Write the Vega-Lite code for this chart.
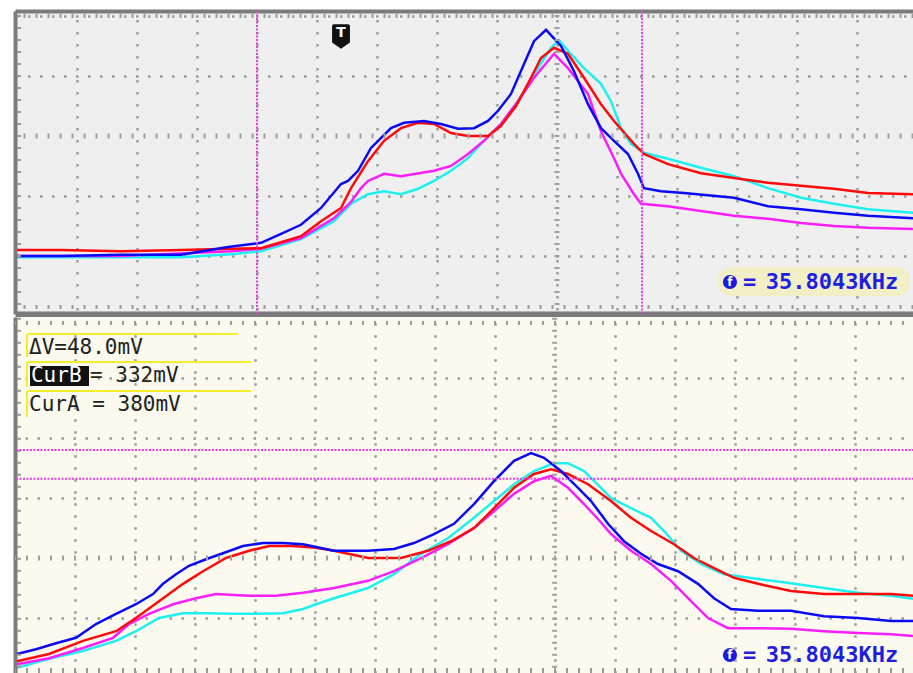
{
  "$schema": "https://vega.github.io/schema/vega-lite/v6.json",
  "background": "white",
  "padding": {"left": 12, "top": 8, "right": 0, "bottom": 0},
  "bounds": "flush",
  "spacing": 3,
  "config": {
    "view": {"stroke": null},
    "axis": {"labels": false, "ticks": false, "domain": false, "grid": false}
  },
  "datasets": {
    "one": [{}],
    "top": [
      {"ch":"cyan","t":0,"v":-2},{"ch":"cyan","t":0.733,"v":-2},{"ch":"cyan","t":1.733,"v":-2},{"ch":"cyan","t":2.733,"v":-2},{"ch":"cyan","t":3.567,"v":3},{"ch":"cyan","t":4.067,"v":8},{"ch":"cyan","t":4.733,"v":28},{"ch":"cyan","t":5.283,"v":58},{"ch":"cyan","t":5.567,"v":87},{"ch":"cyan","t":5.85,"v":103},{"ch":"cyan","t":6.117,"v":108},{"ch":"cyan","t":6.4,"v":103},{"ch":"cyan","t":6.683,"v":112},{"ch":"cyan","t":6.95,"v":125},{"ch":"cyan","t":7.233,"v":142},{"ch":"cyan","t":7.517,"v":163},{"ch":"cyan","t":7.783,"v":192},{"ch":"cyan","t":8.067,"v":220},{"ch":"cyan","t":8.35,"v":258},{"ch":"cyan","t":8.617,"v":303},{"ch":"cyan","t":8.9,"v":347},{"ch":"cyan","t":9.033,"v":360},{"ch":"cyan","t":9.183,"v":342},{"ch":"cyan","t":9.45,"v":313},{"ch":"cyan","t":9.733,"v":287},{"ch":"cyan","t":9.9,"v":258},{"ch":"cyan","t":10.067,"v":213},{"ch":"cyan","t":10.233,"v":187},{"ch":"cyan","t":10.45,"v":172},{"ch":"cyan","t":10.85,"v":162},{"ch":"cyan","t":11.4,"v":147},{"ch":"cyan","t":11.95,"v":133},{"ch":"cyan","t":12.517,"v":113},{"ch":"cyan","t":13.067,"v":97},{"ch":"cyan","t":13.617,"v":87},{"ch":"cyan","t":14.183,"v":78},{"ch":"cyan","t":14.95,"v":72},
      {"ch":"magenta","t":0,"v":0},{"ch":"magenta","t":1.733,"v":0},{"ch":"magenta","t":3.567,"v":8},{"ch":"magenta","t":4.067,"v":12},{"ch":"magenta","t":4.733,"v":30},{"ch":"magenta","t":5.283,"v":63},{"ch":"magenta","t":5.567,"v":90},{"ch":"magenta","t":5.733,"v":113},{"ch":"magenta","t":5.85,"v":125},{"ch":"magenta","t":6.117,"v":137},{"ch":"magenta","t":6.4,"v":133},{"ch":"magenta","t":6.95,"v":142},{"ch":"magenta","t":7.233,"v":150},{"ch":"magenta","t":7.517,"v":170},{"ch":"magenta","t":7.783,"v":192},{"ch":"magenta","t":8.067,"v":220},{"ch":"magenta","t":8.35,"v":258},{"ch":"magenta","t":8.617,"v":297},{"ch":"magenta","t":8.95,"v":337},{"ch":"magenta","t":9.183,"v":313},{"ch":"magenta","t":9.517,"v":270},{"ch":"magenta","t":9.733,"v":208},{"ch":"magenta","t":9.95,"v":163},{"ch":"magenta","t":10.067,"v":137},{"ch":"magenta","t":10.283,"v":103},{"ch":"magenta","t":10.4,"v":87},{"ch":"magenta","t":10.85,"v":83},{"ch":"magenta","t":11.4,"v":75},{"ch":"magenta","t":11.95,"v":67},{"ch":"magenta","t":12.517,"v":62},{"ch":"magenta","t":13.067,"v":55},{"ch":"magenta","t":13.617,"v":50},{"ch":"magenta","t":14.183,"v":47},{"ch":"magenta","t":14.95,"v":45},
      {"ch":"red","t":0,"v":10},{"ch":"red","t":0.733,"v":10},{"ch":"red","t":1.733,"v":8},{"ch":"red","t":2.733,"v":10},{"ch":"red","t":3.567,"v":12},{"ch":"red","t":4.067,"v":13},{"ch":"red","t":4.733,"v":33},{"ch":"red","t":5.067,"v":58},{"ch":"red","t":5.4,"v":80},{"ch":"red","t":5.567,"v":113},{"ch":"red","t":5.85,"v":158},{"ch":"red","t":6.117,"v":192},{"ch":"red","t":6.4,"v":213},{"ch":"red","t":6.683,"v":222},{"ch":"red","t":6.95,"v":220},{"ch":"red","t":7.233,"v":205},{"ch":"red","t":7.517,"v":200},{"ch":"red","t":7.85,"v":200},{"ch":"red","t":8.067,"v":217},{"ch":"red","t":8.317,"v":250},{"ch":"red","t":8.567,"v":297},{"ch":"red","t":8.733,"v":330},{"ch":"red","t":8.95,"v":347},{"ch":"red","t":9.183,"v":337},{"ch":"red","t":9.45,"v":297},{"ch":"red","t":9.733,"v":253},{"ch":"red","t":9.95,"v":225},{"ch":"red","t":10.283,"v":187},{"ch":"red","t":10.45,"v":170},{"ch":"red","t":10.85,"v":153},{"ch":"red","t":11.4,"v":138},{"ch":"red","t":11.95,"v":130},{"ch":"red","t":12.517,"v":122},{"ch":"red","t":13.067,"v":117},{"ch":"red","t":13.617,"v":112},{"ch":"red","t":14.183,"v":105},{"ch":"red","t":14.95,"v":103},
      {"ch":"blue","t":0,"v":0},{"ch":"blue","t":0.733,"v":0},{"ch":"blue","t":1.733,"v":2},{"ch":"blue","t":2.733,"v":2},{"ch":"blue","t":3.517,"v":15},{"ch":"blue","t":4.067,"v":22},{"ch":"blue","t":4.4,"v":37},{"ch":"blue","t":4.733,"v":52},{"ch":"blue","t":5.067,"v":80},{"ch":"blue","t":5.4,"v":120},{"ch":"blue","t":5.517,"v":125},{"ch":"blue","t":5.683,"v":142},{"ch":"blue","t":5.9,"v":180},{"ch":"blue","t":6.233,"v":213},{"ch":"blue","t":6.45,"v":222},{"ch":"blue","t":6.783,"v":225},{"ch":"blue","t":7.067,"v":220},{"ch":"blue","t":7.35,"v":212},{"ch":"blue","t":7.617,"v":213},{"ch":"blue","t":7.85,"v":225},{"ch":"blue","t":8.017,"v":242},{"ch":"blue","t":8.233,"v":270},{"ch":"blue","t":8.45,"v":320},{"ch":"blue","t":8.617,"v":358},{"ch":"blue","t":8.817,"v":377},{"ch":"blue","t":9.067,"v":350},{"ch":"blue","t":9.283,"v":308},{"ch":"blue","t":9.517,"v":253},{"ch":"blue","t":9.733,"v":213},{"ch":"blue","t":9.95,"v":192},{"ch":"blue","t":10.183,"v":170},{"ch":"blue","t":10.35,"v":137},{"ch":"blue","t":10.45,"v":113},{"ch":"blue","t":10.733,"v":108},{"ch":"blue","t":11.117,"v":105},{"ch":"blue","t":11.95,"v":97},{"ch":"blue","t":12.517,"v":83},{"ch":"blue","t":13.067,"v":78},{"ch":"blue","t":13.617,"v":72},{"ch":"blue","t":14.183,"v":67},{"ch":"blue","t":14.95,"v":63}
    ],
    "bot": [
      {"ch":"cyan","t":0,"v":17},{"ch":"cyan","t":0.533,"v":32},{"ch":"cyan","t":1.1,"v":45},{"ch":"cyan","t":1.65,"v":62},{"ch":"cyan","t":1.983,"v":78},{"ch":"cyan","t":2.367,"v":100},{"ch":"cyan","t":2.767,"v":108},{"ch":"cyan","t":3.15,"v":108},{"ch":"cyan","t":3.6,"v":107},{"ch":"cyan","t":3.983,"v":107},{"ch":"cyan","t":4.433,"v":108},{"ch":"cyan","t":4.767,"v":115},{"ch":"cyan","t":4.983,"v":123},{"ch":"cyan","t":5.283,"v":133},{"ch":"cyan","t":5.85,"v":150},{"ch":"cyan","t":6.283,"v":173},{"ch":"cyan","t":6.733,"v":207},{"ch":"cyan","t":7.183,"v":233},{"ch":"cyan","t":7.617,"v":267},{"ch":"cyan","t":7.95,"v":295},{"ch":"cyan","t":8.283,"v":323},{"ch":"cyan","t":8.617,"v":345},{"ch":"cyan","t":8.95,"v":358},{"ch":"cyan","t":9.183,"v":358},{"ch":"cyan","t":9.45,"v":345},{"ch":"cyan","t":9.733,"v":317},{"ch":"cyan","t":9.9,"v":300},{"ch":"cyan","t":10.233,"v":283},{"ch":"cyan","t":10.567,"v":267},{"ch":"cyan","t":10.783,"v":245},{"ch":"cyan","t":11.067,"v":212},{"ch":"cyan","t":11.4,"v":190},{"ch":"cyan","t":11.783,"v":173},{"ch":"cyan","t":12.35,"v":165},{"ch":"cyan","t":12.9,"v":158},{"ch":"cyan","t":13.45,"v":150},{"ch":"cyan","t":14.017,"v":142},{"ch":"cyan","t":14.567,"v":137},{"ch":"cyan","t":14.95,"v":132},
      {"ch":"magenta","t":0,"v":23},{"ch":"magenta","t":0.533,"v":33},{"ch":"magenta","t":1.1,"v":50},{"ch":"magenta","t":1.6,"v":67},{"ch":"magenta","t":1.867,"v":90},{"ch":"magenta","t":2.2,"v":107},{"ch":"magenta","t":2.6,"v":123},{"ch":"magenta","t":2.983,"v":133},{"ch":"magenta","t":3.317,"v":140},{"ch":"magenta","t":3.867,"v":137},{"ch":"magenta","t":4.317,"v":137},{"ch":"magenta","t":4.767,"v":142},{"ch":"magenta","t":5.283,"v":150},{"ch":"magenta","t":5.85,"v":162},{"ch":"magenta","t":6.283,"v":178},{"ch":"magenta","t":6.733,"v":200},{"ch":"magenta","t":7.183,"v":223},{"ch":"magenta","t":7.617,"v":250},{"ch":"magenta","t":7.95,"v":278},{"ch":"magenta","t":8.283,"v":307},{"ch":"magenta","t":8.617,"v":328},{"ch":"magenta","t":8.9,"v":337},{"ch":"magenta","t":9.183,"v":317},{"ch":"magenta","t":9.45,"v":290},{"ch":"magenta","t":9.683,"v":265},{"ch":"magenta","t":9.9,"v":240},{"ch":"magenta","t":10.233,"v":212},{"ch":"magenta","t":10.567,"v":190},{"ch":"magenta","t":10.9,"v":162},{"ch":"magenta","t":11.233,"v":128},{"ch":"magenta","t":11.517,"v":100},{"ch":"magenta","t":11.85,"v":83},{"ch":"magenta","t":12.35,"v":83},{"ch":"magenta","t":12.9,"v":82},{"ch":"magenta","t":13.45,"v":78},{"ch":"magenta","t":14.017,"v":75},{"ch":"magenta","t":14.567,"v":73},{"ch":"magenta","t":14.95,"v":70},
      {"ch":"red","t":0,"v":28},{"ch":"red","t":0.533,"v":40},{"ch":"red","t":1.1,"v":62},{"ch":"red","t":1.65,"v":78},{"ch":"red","t":1.983,"v":100},{"ch":"red","t":2.367,"v":128},{"ch":"red","t":2.767,"v":157},{"ch":"red","t":3.1,"v":178},{"ch":"red","t":3.483,"v":200},{"ch":"red","t":3.867,"v":212},{"ch":"red","t":4.2,"v":220},{"ch":"red","t":4.6,"v":220},{"ch":"red","t":4.983,"v":217},{"ch":"red","t":5.283,"v":212},{"ch":"red","t":5.85,"v":200},{"ch":"red","t":6.4,"v":200},{"ch":"red","t":6.85,"v":212},{"ch":"red","t":7.233,"v":228},{"ch":"red","t":7.617,"v":250},{"ch":"red","t":7.95,"v":283},{"ch":"red","t":8.283,"v":317},{"ch":"red","t":8.617,"v":340},{"ch":"red","t":8.9,"v":348},{"ch":"red","t":9.183,"v":340},{"ch":"red","t":9.517,"v":323},{"ch":"red","t":9.733,"v":307},{"ch":"red","t":9.9,"v":295},{"ch":"red","t":10.233,"v":267},{"ch":"red","t":10.567,"v":245},{"ch":"red","t":10.95,"v":223},{"ch":"red","t":11.283,"v":200},{"ch":"red","t":11.617,"v":183},{"ch":"red","t":11.95,"v":167},{"ch":"red","t":12.35,"v":157},{"ch":"red","t":12.9,"v":145},{"ch":"red","t":13.45,"v":140},{"ch":"red","t":14.017,"v":140},{"ch":"red","t":14.567,"v":140},{"ch":"red","t":14.95,"v":137},
      {"ch":"blue","t":0,"v":40},{"ch":"blue","t":0.317,"v":48},{"ch":"blue","t":0.65,"v":58},{"ch":"blue","t":0.983,"v":67},{"ch":"blue","t":1.317,"v":90},{"ch":"blue","t":1.65,"v":107},{"ch":"blue","t":1.983,"v":123},{"ch":"blue","t":2.267,"v":140},{"ch":"blue","t":2.433,"v":157},{"ch":"blue","t":2.65,"v":173},{"ch":"blue","t":2.867,"v":187},{"ch":"blue","t":3.15,"v":198},{"ch":"blue","t":3.433,"v":208},{"ch":"blue","t":3.767,"v":220},{"ch":"blue","t":4.1,"v":225},{"ch":"blue","t":4.433,"v":225},{"ch":"blue","t":4.767,"v":223},{"ch":"blue","t":5.283,"v":212},{"ch":"blue","t":5.85,"v":212},{"ch":"blue","t":6.283,"v":215},{"ch":"blue","t":6.617,"v":225},{"ch":"blue","t":6.95,"v":240},{"ch":"blue","t":7.283,"v":257},{"ch":"blue","t":7.617,"v":290},{"ch":"blue","t":7.95,"v":328},{"ch":"blue","t":8.283,"v":362},{"ch":"blue","t":8.567,"v":375},{"ch":"blue","t":8.783,"v":367},{"ch":"blue","t":9.067,"v":345},{"ch":"blue","t":9.35,"v":317},{"ch":"blue","t":9.567,"v":295},{"ch":"blue","t":9.85,"v":257},{"ch":"blue","t":10.117,"v":228},{"ch":"blue","t":10.4,"v":207},{"ch":"blue","t":10.683,"v":190},{"ch":"blue","t":11.017,"v":178},{"ch":"blue","t":11.35,"v":157},{"ch":"blue","t":11.617,"v":133},{"ch":"blue","t":11.9,"v":115},{"ch":"blue","t":12.35,"v":112},{"ch":"blue","t":12.9,"v":112},{"ch":"blue","t":13.45,"v":103},{"ch":"blue","t":14.017,"v":100},{"ch":"blue","t":14.567,"v":95},{"ch":"blue","t":14.95,"v":95}
    ]
  },
  "vconcat": [
    {
      "width": 899,
      "height": 303,
      "view": {"fill": "#efefef", "stroke": null},
      "resolve": {"axis": {"x": "independent", "y": "independent"}},
      "layer": [
        {
          "data": {"name": "top"},
          "mark": {"type": "line", "clip": true, "strokeJoin": "miter"},
          "encoding": {
            "x": {"field": "t", "type": "quantitative", "scale": {"domain": [-0.0333, 14.95], "nice": false, "zero": false},
              "axis": {"orient": "top", "title": null, "domain": true, "domainColor": "#7b7b7b", "domainWidth": 4, "grid": true, "values": [1,2,3,4,5,6,7,8,9,10,11,12,13,14], "gridColor": "#9c9c9c", "gridWidth": 2.5, "gridDash": [2.5, 9.5], "gridDashOffset": 8, "gridOpacity": 1}},
            "y": {"field": "v", "type": "quantitative", "scale": {"domain": [-96.7, 408.3], "nice": false, "zero": false},
              "axis": {"orient": "left", "title": null, "domain": true, "domainColor": "#7b7b7b", "domainWidth": 4, "grid": true, "values": [0, 100, 300, 400], "gridColor": "#9c9c9c", "gridWidth": 2.5, "gridDash": [2.5, 9.5], "gridDashOffset": 11.5, "gridOpacity": 1}},
            "color": {"field": "ch", "type": "nominal", "scale": {"domain": ["cyan", "magenta", "red", "blue"], "range": ["#1ef0f0", "#fa1efa", "#ff0a0a", "#0a0af5"]}, "legend": null},
            "strokeWidth": {"field": "ch", "type": "nominal", "scale": {"domain": ["cyan", "magenta", "red", "blue"], "range": [2.5, 2.5, 3.5, 4]}, "legend": null}
          }
        },
        {
          "data": {"name": "one"},
          "mark": {"type": "rule", "color": "#a0a0a0", "strokeWidth": 5, "strokeDash": [2, 10], "strokeDashOffset": 8},
          "encoding": {"x": {"datum": 9, "type": "quantitative",
            "axis": {"orient": "bottom", "title": null, "domain": true, "domainColor": "#7b7b7b", "domainWidth": 6, "grid": false, "labels": false, "ticks": false}}}
        },
        {
          "data": {"name": "one"},
          "mark": {"type": "rule", "color": "#a0a0a0", "strokeWidth": 5, "strokeDash": [2, 10], "strokeDashOffset": 11.5},
          "encoding": {"y": {"datum": 200, "type": "quantitative", "axis": null}}
        },
        {
          "data": {"name": "one"},
          "mark": {"type": "rule", "color": "#9a9a9a", "strokeWidth": 4, "strokeDash": [2, 10], "strokeDashOffset": 11.5, "yOffset": 5},
          "encoding": {"y": {"datum": 408.3, "type": "quantitative", "axis": null}}
        },
        {
          "data": {"name": "one"},
          "mark": {"type": "rule", "color": "#9a9a9a", "strokeWidth": 4, "strokeDash": [2, 10], "strokeDashOffset": 11.5, "yOffset": -7},
          "encoding": {"y": {"datum": -96.7, "type": "quantitative", "axis": null}}
        },
        {
          "data": {"name": "one"},
          "mark": {"type": "rule", "color": "#9a9a9a", "strokeWidth": 4, "strokeDash": [2, 10], "strokeDashOffset": 8, "xOffset": 4},
          "encoding": {"x": {"datum": -0.0333, "type": "quantitative", "axis": null}}
        },
        {
          "data": {"name": "one"},
          "mark": {"type": "rule", "color": "#e83ee8", "strokeWidth": 2, "strokeDash": [2, 1.5]},
          "encoding": {"x": {"datum": 4.0, "type": "quantitative", "axis": null}}
        },
        {
          "data": {"name": "one"},
          "mark": {"type": "rule", "color": "#e83ee8", "strokeWidth": 2, "strokeDash": [2, 1.5]},
          "encoding": {"x": {"datum": 10.417, "type": "quantitative", "axis": null}}
        },
        {
          "data": {"name": "one"},
          "mark": {"type": "point", "filled": true, "color": "#111111", "opacity": 1, "size": 320,
            "shape": "M-0.8,-1.3 L0.8,-1.3 Q1,-1.3 1,-1.1 L1,0.75 L0,1.45 L-1,0.75 L-1,-1.1 Q-1,-1.3 -0.8,-1.3 Z"},
          "encoding": {"x": {"datum": 5.4, "type": "quantitative", "axis": null}, "y": {"datum": 367, "type": "quantitative", "axis": null}}
        },
        {
          "data": {"name": "one"},
          "mark": {"type": "text", "text": "T", "color": "white", "font": "DejaVu Sans", "fontWeight": "bold", "fontSize": 14, "align": "center", "baseline": "middle"},
          "encoding": {"x": {"datum": 5.4, "type": "quantitative", "axis": null}, "y": {"datum": 372, "type": "quantitative", "axis": null}}
        },
        {
          "data": {"name": "one"},
          "mark": {"type": "rect", "color": "#f2eec5", "cornerRadius": 13},
          "encoding": {"x": {"datum": 11.683, "type": "quantitative", "axis": null}, "x2": {"datum": 14.883},
                       "y": {"datum": -18.3, "type": "quantitative", "axis": null}, "y2": {"datum": -66.7}}
        },
        {
          "data": {"name": "one"},
          "mark": {"type": "point", "filled": true, "shape": "circle", "color": "#1a1ae6", "opacity": 1, "size": 200},
          "encoding": {"x": {"datum": 11.883, "type": "quantitative", "axis": null}, "y": {"datum": -43.3, "type": "quantitative", "axis": null}}
        },
        {
          "data": {"name": "one"},
          "mark": {"type": "text", "text": "f", "color": "white", "font": "DejaVu Sans", "fontWeight": "bold", "fontSize": 12, "align": "center", "baseline": "middle"},
          "encoding": {"x": {"datum": 11.883, "type": "quantitative", "axis": null}, "y": {"datum": -43.3, "type": "quantitative", "axis": null}}
        },
        {
          "data": {"name": "one"},
          "mark": {"type": "text", "text": "=", "color": "#1f1fe0", "font": "DejaVu Sans Mono", "fontWeight": "bold", "fontSize": 22, "align": "left", "baseline": "middle"},
          "encoding": {"x": {"datum": 12.1, "type": "quantitative", "axis": null}, "y": {"datum": -43.3, "type": "quantitative", "axis": null}}
        },
        {
          "data": {"name": "one"},
          "mark": {"type": "text", "text": "35.8043KHz", "color": "#1f1fe0", "font": "DejaVu Sans Mono", "fontWeight": "bold", "fontSize": 22, "align": "left", "baseline": "middle"},
          "encoding": {"x": {"datum": 12.48, "type": "quantitative", "axis": null}, "y": {"datum": -43.3, "type": "quantitative", "axis": null}}
        }
      ]
    },
    {
      "width": 899,
      "height": 357,
      "view": {"fill": "#fcf9ee", "stroke": null},
      "resolve": {"axis": {"x": "independent", "y": "independent"}},
      "layer": [
        {
          "data": {"name": "bot"},
          "mark": {"type": "line", "clip": true, "strokeJoin": "miter"},
          "encoding": {
            "x": {"field": "t", "type": "quantitative", "scale": {"domain": [-0.0333, 14.95], "nice": false, "zero": false},
              "axis": {"orient": "top", "title": null, "domain": false, "grid": true, "values": [0.96,1.96,2.96,3.96,4.96,5.96,6.96,7.96,8.96,9.96,10.96,11.96,12.96,13.96], "gridColor": "#9c9c9c", "gridWidth": 2.5, "gridDash": [2.5, 9.5], "gridDashOffset": 11.3, "gridOpacity": 1}},
            "y": {"field": "v", "type": "quantitative", "scale": {"domain": [6.7, 601.7], "nice": false, "zero": false},
              "axis": {"orient": "left", "title": null, "domain": true, "domainColor": "#7b7b7b", "domainWidth": 4, "grid": true, "values": [100, 300, 400, 500], "gridColor": "#9c9c9c", "gridWidth": 2.5, "gridDash": [2.5, 9.5], "gridDashOffset": 2, "gridOpacity": 1}},
            "color": {"field": "ch", "type": "nominal", "scale": {"domain": ["cyan", "magenta", "red", "blue"], "range": ["#1ef0f0", "#fa1efa", "#ff0a0a", "#0a0af5"]}, "legend": null},
            "strokeWidth": {"field": "ch", "type": "nominal", "scale": {"domain": ["cyan", "magenta", "red", "blue"], "range": [2.5, 2.5, 3.5, 4]}, "legend": null}
          }
        },
        {
          "data": {"name": "one"},
          "mark": {"type": "rule", "color": "#a0a0a0", "strokeWidth": 5, "strokeDash": [2, 10], "strokeDashOffset": 11.3},
          "encoding": {"x": {"datum": 8.96, "type": "quantitative", "axis": null}}
        },
        {
          "data": {"name": "one"},
          "mark": {"type": "rule", "color": "#a0a0a0", "strokeWidth": 5, "strokeDash": [2, 10], "strokeDashOffset": 2},
          "encoding": {"y": {"datum": 200, "type": "quantitative", "axis": null}}
        },
        {
          "data": {"name": "one"},
          "mark": {"type": "rule", "color": "#9a9a9a", "strokeWidth": 4, "strokeDash": [2, 10], "strokeDashOffset": 2, "yOffset": 6},
          "encoding": {"y": {"datum": 601.7, "type": "quantitative", "axis": null}}
        },
        {
          "data": {"name": "one"},
          "mark": {"type": "rule", "color": "#9a9a9a", "strokeWidth": 6, "strokeDash": [2, 10], "strokeDashOffset": 2, "yOffset": -3},
          "encoding": {"y": {"datum": 6.7, "type": "quantitative", "axis": null}}
        },
        {
          "data": {"name": "one"},
          "mark": {"type": "rule", "color": "#9a9a9a", "strokeWidth": 4, "strokeDash": [2, 10], "strokeDashOffset": 11.3, "xOffset": 4},
          "encoding": {"x": {"datum": -0.0333, "type": "quantitative", "axis": null}}
        },
        {
          "data": {"name": "one"},
          "mark": {"type": "rule", "color": "#e83ee8", "strokeWidth": 2, "strokeDash": [2, 1.5]},
          "encoding": {"y": {"datum": 380, "type": "quantitative", "axis": null}}
        },
        {
          "data": {"name": "one"},
          "mark": {"type": "rule", "color": "#e83ee8", "strokeWidth": 2, "strokeDash": [2, 1.5]},
          "encoding": {"y": {"datum": 332, "type": "quantitative", "axis": null}}
        },
        {
          "data": {"name": "one"},
          "mark": {"type": "rule", "color": "#f4ee2a", "strokeWidth": 2},
          "encoding": {"x": {"datum": 0.183, "type": "quantitative", "axis": null}, "x2": {"datum": 3.683}, "y": {"datum": 573.3, "type": "quantitative", "axis": null}}
        },
        {
          "data": {"name": "one"},
          "mark": {"type": "rule", "color": "#f4ee2a", "strokeWidth": 2},
          "encoding": {"x": {"datum": 0.167, "type": "quantitative", "axis": null}, "y": {"datum": 573.3, "type": "quantitative", "axis": null}, "y2": {"datum": 535}}
        },
        {
          "data": {"name": "one"},
          "mark": {"type": "rule", "color": "#f4ee2a", "strokeWidth": 2},
          "encoding": {"x": {"datum": 0.183, "type": "quantitative", "axis": null}, "x2": {"datum": 3.9}, "y": {"datum": 526.7, "type": "quantitative", "axis": null}}
        },
        {
          "data": {"name": "one"},
          "mark": {"type": "rule", "color": "#f4ee2a", "strokeWidth": 2},
          "encoding": {"x": {"datum": 0.167, "type": "quantitative", "axis": null}, "y": {"datum": 526.7, "type": "quantitative", "axis": null}, "y2": {"datum": 485}}
        },
        {
          "data": {"name": "one"},
          "mark": {"type": "rule", "color": "#f4ee2a", "strokeWidth": 2},
          "encoding": {"x": {"datum": 0.183, "type": "quantitative", "axis": null}, "x2": {"datum": 3.9}, "y": {"datum": 478.3, "type": "quantitative", "axis": null}}
        },
        {
          "data": {"name": "one"},
          "mark": {"type": "rule", "color": "#f4ee2a", "strokeWidth": 2},
          "encoding": {"x": {"datum": 0.167, "type": "quantitative", "axis": null}, "y": {"datum": 478.3, "type": "quantitative", "axis": null}, "y2": {"datum": 435}}
        },
        {
          "data": {"name": "one"},
          "mark": {"type": "rect", "color": "#111111"},
          "encoding": {"x": {"datum": 0.217, "type": "quantitative", "axis": null}, "x2": {"datum": 1.2},
                       "y": {"datum": 520, "type": "quantitative", "axis": null}, "y2": {"datum": 486.7}}
        },
        {
          "data": {"name": "one"},
          "mark": {"type": "text", "text": "ΔV=48.0mV", "color": "#222222", "font": "DejaVu Sans Mono", "fontSize": 21, "align": "left", "baseline": "middle"},
          "encoding": {"x": {"datum": 0.2, "type": "quantitative", "axis": null}, "y": {"datum": 550, "type": "quantitative", "axis": null}}
        },
        {
          "data": {"name": "one"},
          "mark": {"type": "text", "text": "CurB", "color": "white", "font": "DejaVu Sans Mono", "fontSize": 21, "align": "left", "baseline": "middle"},
          "encoding": {"x": {"datum": 0.233, "type": "quantitative", "axis": null}, "y": {"datum": 503.3, "type": "quantitative", "axis": null}}
        },
        {
          "data": {"name": "one"},
          "mark": {"type": "text", "text": "= 332mV", "color": "#222222", "font": "DejaVu Sans Mono", "fontSize": 21, "align": "left", "baseline": "middle"},
          "encoding": {"x": {"datum": 1.217, "type": "quantitative", "axis": null}, "y": {"datum": 503.3, "type": "quantitative", "axis": null}}
        },
        {
          "data": {"name": "one"},
          "mark": {"type": "text", "text": "CurA = 380mV", "color": "#222222", "font": "DejaVu Sans Mono", "fontSize": 21, "align": "left", "baseline": "middle"},
          "encoding": {"x": {"datum": 0.2, "type": "quantitative", "axis": null}, "y": {"datum": 455, "type": "quantitative", "axis": null}}
        },
        {
          "data": {"name": "one"},
          "mark": {"type": "point", "filled": true, "shape": "circle", "color": "#1a1ae6", "opacity": 1, "size": 200},
          "encoding": {"x": {"datum": 11.883, "type": "quantitative", "axis": null}, "y": {"datum": 38.3, "type": "quantitative", "axis": null}}
        },
        {
          "data": {"name": "one"},
          "mark": {"type": "text", "text": "f", "color": "white", "font": "DejaVu Sans", "fontWeight": "bold", "fontSize": 12, "align": "center", "baseline": "middle"},
          "encoding": {"x": {"datum": 11.883, "type": "quantitative", "axis": null}, "y": {"datum": 38.3, "type": "quantitative", "axis": null}}
        },
        {
          "data": {"name": "one"},
          "mark": {"type": "text", "text": "=", "color": "#1f1fe0", "font": "DejaVu Sans Mono", "fontWeight": "bold", "fontSize": 22, "align": "left", "baseline": "middle"},
          "encoding": {"x": {"datum": 12.1, "type": "quantitative", "axis": null}, "y": {"datum": 38.3, "type": "quantitative", "axis": null}}
        },
        {
          "data": {"name": "one"},
          "mark": {"type": "text", "text": "35.8043KHz", "color": "#1f1fe0", "font": "DejaVu Sans Mono", "fontWeight": "bold", "fontSize": 22, "align": "left", "baseline": "middle"},
          "encoding": {"x": {"datum": 12.48, "type": "quantitative", "axis": null}, "y": {"datum": 38.3, "type": "quantitative", "axis": null}}
        }
      ]
    }
  ]
}
